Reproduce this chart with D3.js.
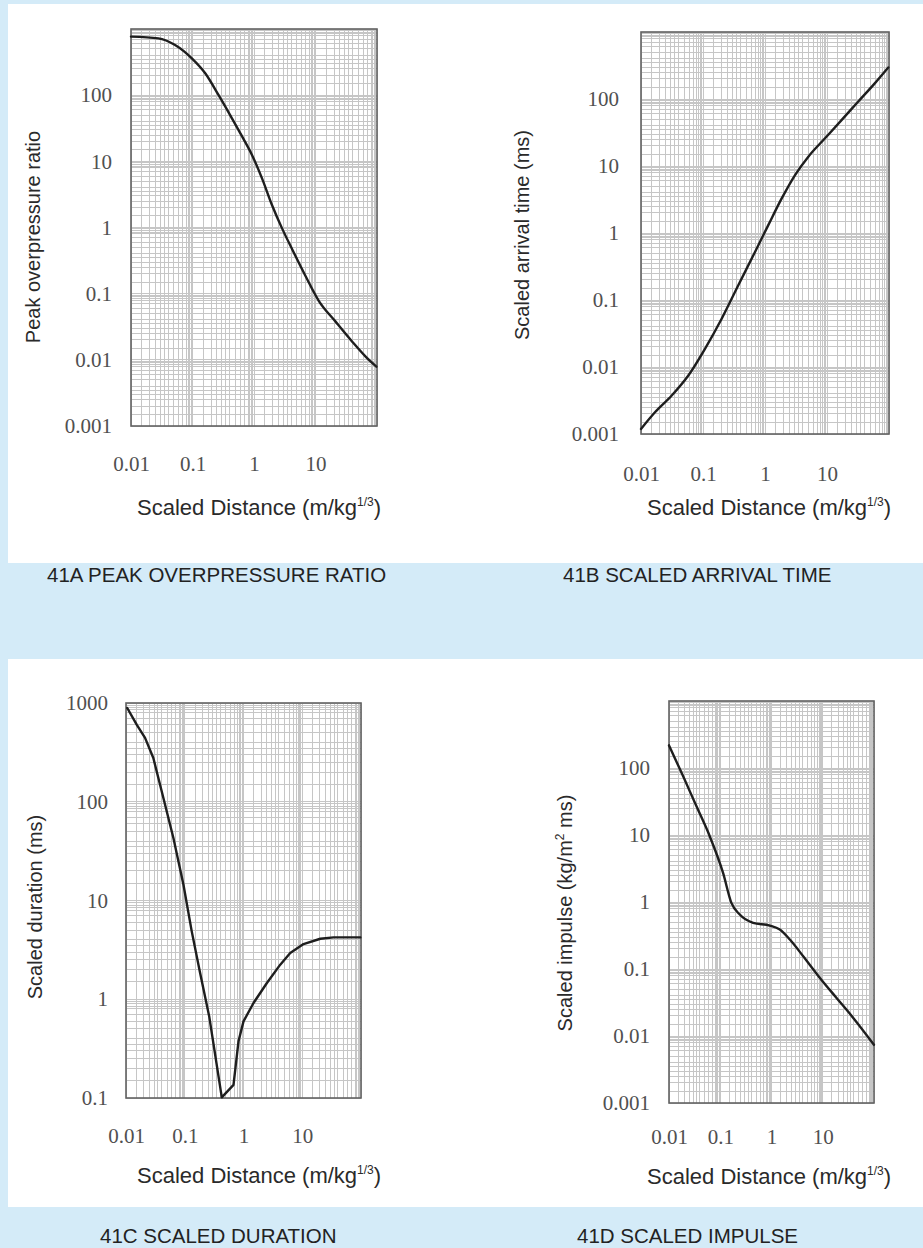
<!DOCTYPE html>
<html>
<head>
<meta charset="utf-8">
<script src="https://cdn.jsdelivr.net/npm/d3@7"></script>
<style>
  html, body { margin: 0; padding: 0; background: #d4ebf8; }
  svg { display: block; }
</style>
</head>
<body>
<svg id="chart" width="923" height="1248"></svg>
<script>
// ---------------- DATA ----------------
// 41A Peak overpressure ratio vs scaled distance
const distA = [0.01, 0.0279, 0.0521, 0.0975, 0.161, 0.266, 0.438, 0.637, 0.927, 1.35, 1.96, 2.86, 4.17, 6.88, 11.3, 21.2, 39.6, 65.3, 97.7];
const peakOverpressure = [766, 723, 573, 360, 214, 100, 44.7, 24, 12.5, 5.53, 2.19, 0.97, 0.47, 0.185, 0.078, 0.0378, 0.0188, 0.0112, 0.0079];

// 41B Scaled arrival time
const distB = [0.01, 0.0168, 0.0313, 0.058, 0.1076, 0.2, 0.371, 0.69, 1.13, 1.86, 3.05, 5.0, 9.29, 17.3, 32, 59.4, 97.5];
const arrivalTime = [0.00119, 0.00211, 0.00375, 0.00746, 0.0187, 0.0526, 0.166, 0.522, 1.31, 3.28, 7.33, 13.8, 25.9, 48.8, 91.8, 172.6, 296];

// 41C Scaled duration
const distC = [0.0105, 0.0152, 0.0211, 0.0292, 0.0433, 0.0641, 0.0949, 0.1315, 0.18, 0.262, 0.427, 0.676, 0.822, 1.0, 1.48, 2.5, 4.22, 6.24, 10.5, 20.3, 34.2, 97.5];
const duration = [890, 603, 443, 277, 109, 43, 14.5, 4.87, 1.92, 0.66, 0.1016, 0.136, 0.375, 0.597, 0.916, 1.46, 2.24, 2.94, 3.62, 4.1, 4.23, 4.23];

// 41D Scaled impulse
const distD = [0.01, 0.0188, 0.0342, 0.0623, 0.1135, 0.165, 0.24, 0.438, 0.927, 1.45, 2.28, 4.15, 8.8, 18.6, 39.4, 99.8];
const impulse = [218, 75.7, 27, 9.6, 2.72, 0.97, 0.65, 0.488, 0.445, 0.388, 0.275, 0.155, 0.0736, 0.037, 0.0186, 0.0074];

// Tick labels
const xTickValues = [0.01, 0.1, 1, 10];
const xTickLabels = ["0.01", "0.1", "1", "10"];
const yTickValues6 = [0.001, 0.01, 0.1, 1, 10, 100];
const yTickLabels6 = ["0.001", "0.01", "0.1", "1", "10", "100"];
const yTickValuesC = [0.1, 1, 10, 100, 1000];
const yTickLabelsC = ["0.1", "1", "10", "100", "1000"];

// grid multipliers inside each decade (log-paper rulings)
const gridSteps = [1, 1.5, 2, 2.5, 3, 3.5, 4, 5, 6, 7, 8, 8.5, 9, 9.5];

// Texts
const xTitle = "Scaled Distance (m/kg";
const xTitleSup = "1/3";
const captions = ["41A PEAK OVERPRESSURE RATIO", "41B SCALED ARRIVAL TIME", "41C SCALED DURATION", "41D SCALED IMPULSE"];

// ---------------- DRAW ----------------
const svg = d3.select("#chart");

// white panels
svg.append("rect").attr("x", 8).attr("y", 4).attr("width", 915).attr("height", 559).attr("fill", "#ffffff");
svg.append("rect").attr("x", 8).attr("y", 659).attr("width", 915).attr("height", 548).attr("fill", "#ffffff");

function gridValues(domain) {
  const lo = Math.round(Math.log10(domain[0]));
  const hi = Math.round(Math.log10(domain[1]));
  const vals = [];
  for (let e = lo; e < hi; e++) {
    gridSteps.forEach(k => vals.push(k * Math.pow(10, e)));
  }
  vals.push(Math.pow(10, hi));
  return vals;
}

function drawChart(cfg) {
  const x = d3.scaleLog().domain(cfg.xDomain).range([cfg.left, cfg.right]);
  const y = d3.scaleLog().domain(cfg.yDomain).range([cfg.bottom, cfg.top]);
  const g = svg.append("g");

  g.append("rect").attr("x", cfg.left).attr("y", cfg.top)
    .attr("width", cfg.right - cfg.left).attr("height", cfg.bottom - cfg.top)
    .attr("fill", "#ffffff");

  // grid
  const grid = g.append("g").attr("stroke", "#c6c6c6").attr("stroke-width", 1).attr("shape-rendering", "crispEdges");
  grid.selectAll(".vx").data(gridValues(cfg.xDomain)).join("line")
    .attr("x1", d => x(d)).attr("x2", d => x(d))
    .attr("y1", cfg.top).attr("y2", cfg.bottom);
  grid.selectAll(".hy").data(gridValues(cfg.yDomain)).join("line")
    .attr("y1", d => y(d)).attr("y2", d => y(d))
    .attr("x1", cfg.left).attr("x2", cfg.right);

  // border
  g.append("rect").attr("x", cfg.left).attr("y", cfg.top)
    .attr("width", cfg.right - cfg.left).attr("height", cfg.bottom - cfg.top)
    .attr("fill", "none").attr("stroke", "#626262").attr("stroke-width", 1.6);

  // curve
  const pts = cfg.xs.map((d, i) => [d, cfg.ys[i]]);
  g.append("path").datum(pts)
    .attr("fill", "none").attr("stroke", "#1e1e1e").attr("stroke-width", 2.4)
    .attr("stroke-linejoin", "round").attr("stroke-linecap", "round")
    .attr("d", d3.line().x(d => x(d[0])).y(d => y(d[1])).curve(cfg.curve));

  // x axis
  const xa = g.append("g").attr("transform", `translate(0,${cfg.bottom})`)
    .call(d3.axisBottom(x).tickValues(xTickValues).tickFormat((d, i) => xTickLabels[i]).tickSize(0).tickPadding(cfg.xPad));
  xa.select(".domain").remove();
  xa.selectAll("text").attr("font-family", "'Liberation Serif', 'Times New Roman', serif")
    .attr("font-size", 21).attr("fill", "#505050");

  // y axis
  const ya = g.append("g").attr("transform", `translate(${cfg.left},0)`)
    .call(d3.axisLeft(y).tickValues(cfg.yTicks).tickFormat((d, i) => cfg.yLabels[i]).tickSize(0).tickPadding(cfg.yPad));
  ya.select(".domain").remove();
  ya.selectAll("text").attr("font-family", "'Liberation Serif', 'Times New Roman', serif")
    .attr("font-size", 21).attr("fill", "#505050");

  // x title
  const xt = g.append("text").attr("x", cfg.xTitleX).attr("y", cfg.xTitleY)
    .attr("font-family", "'Liberation Sans', Arial, sans-serif").attr("font-size", 22).attr("fill", "#2a2a2a");
  xt.append("tspan").text(xTitle);
  xt.append("tspan").attr("font-size", 12).attr("dy", -9).text(xTitleSup);
  xt.append("tspan").attr("dy", 9).text(")");

  // y title
  const yt = g.append("text")
    .attr("transform", `translate(${cfg.yTitleX},${cfg.yTitleY}) rotate(-90)`)
    .attr("text-anchor", "middle")
    .attr("font-family", "'Liberation Sans', Arial, sans-serif").attr("font-size", 20).attr("fill", "#2a2a2a");
  cfg.yTitle(yt);

  // caption
  svg.append("text").attr("x", cfg.capX).attr("y", cfg.capY)
    .attr("font-family", "'Liberation Sans', Arial, sans-serif").attr("font-size", 20.5).attr("fill", "#222")
    .text(cfg.caption);
}

drawChart({
  left: 131, right: 377, top: 29, bottom: 426,
  xDomain: [0.01, 100], yDomain: [0.001, 1000],
  xs: distA, ys: peakOverpressure, curve: d3.curveMonotoneX,
  yTicks: yTickValues6, yLabels: yTickLabels6,
  xPad: 30, yPad: 19,
  xTitleX: 137, xTitleY: 515,
  yTitleX: 40, yTitleY: 237,
  yTitle: t => t.text("Peak overpressure ratio"),
  caption: captions[0], capX: 47, capY: 582
});

drawChart({
  left: 641, right: 889, top: 32, bottom: 434,
  xDomain: [0.01, 100], yDomain: [0.001, 1000],
  xs: distB, ys: arrivalTime, curve: d3.curveMonotoneX,
  yTicks: yTickValues6, yLabels: yTickLabels6,
  xPad: 32, yPad: 22,
  xTitleX: 647, xTitleY: 515,
  yTitleX: 529, yTitleY: 235,
  yTitle: t => t.text("Scaled arrival time (ms)"),
  caption: captions[1], capX: 563, capY: 582
});

drawChart({
  left: 126, right: 361, top: 703, bottom: 1098,
  xDomain: [0.01, 100], yDomain: [0.1, 1000],
  xs: distC, ys: duration, curve: d3.curveLinear,
  yTicks: yTickValuesC, yLabels: yTickLabelsC,
  xPad: 30, yPad: 18,
  xTitleX: 137, xTitleY: 1183,
  yTitleX: 42, yTitleY: 907,
  yTitle: t => t.text("Scaled duration (ms)"),
  caption: captions[2], capX: 100, capY: 1243
});

drawChart({
  left: 669, right: 874, top: 701, bottom: 1103,
  xDomain: [0.01, 100], yDomain: [0.001, 1000],
  xs: distD, ys: impulse, curve: d3.curveMonotoneX,
  yTicks: yTickValues6, yLabels: yTickLabels6,
  xPad: 26, yPad: 19,
  xTitleX: 647, xTitleY: 1184,
  yTitleX: 572, yTitleY: 913,
  yTitle: t => {
    t.append("tspan").text("Scaled impulse (kg/m");
    t.append("tspan").attr("font-size", 12).attr("dy", -8).text("2");
    t.append("tspan").attr("dy", 8).text(" ms)");
  },
  caption: captions[3], capX: 577, capY: 1243
});
</script>
</body>
</html>
